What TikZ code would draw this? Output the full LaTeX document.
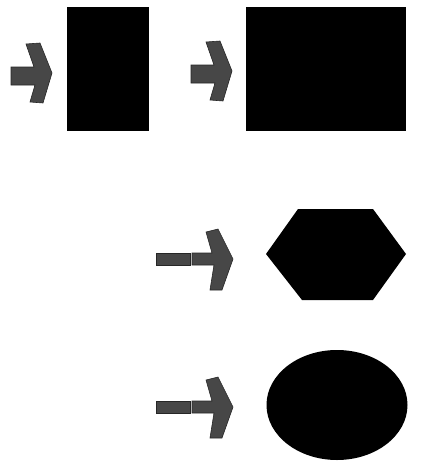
\documentclass[tikz,border=0pt]{standalone}
\usetikzlibrary{shapes.geometric}
\begin{document}
\begin{tikzpicture}[x=1pt,y=-1pt,
  blk/.style={fill=black,draw=none,inner sep=0pt},
  barrow/.style={fill=black!72,draw=black!85,line width=0.6pt,line join=miter}]
\useasboundingbox (0,0) rectangle (430,461);
% shapes
\node[blk,minimum width=82pt,minimum height=124pt] (r1) at (108,69) {};
\node[blk,minimum width=160pt,minimum height=124pt] (r2) at (326,69) {};
\fill (266,254) -- (298,209) -- (373,209) -- (406,254) -- (373,300) -- (302,300) -- cycle;
\node[blk,ellipse,minimum width=141pt,minimum height=110pt] (e1) at (337,405) {};
% arrows row 1
\foreach \dx/\dy in {0/0,180/-2}{
\begin{scope}[shift={(\dx,\dy)}]
\draw[barrow] (11,67) -- (34,67) -- (26,44) -- (40,43) -- (52,73) -- (43,103) -- (30,102) -- (35,85) -- (11,85) -- cycle;
\end{scope}}
% arrows with dash
\foreach \dy in {0,148}{
\begin{scope}[shift={(0,\dy)}]
\draw[barrow] (156,253) rectangle (190,265);
\draw[barrow] (192,253) -- (212,253) -- (206,232) -- (218,229) -- (233,259) -- (222,290) -- (210,290) -- (214,265) -- (192,265) -- cycle;
\end{scope}}
\end{tikzpicture}
\end{document}
